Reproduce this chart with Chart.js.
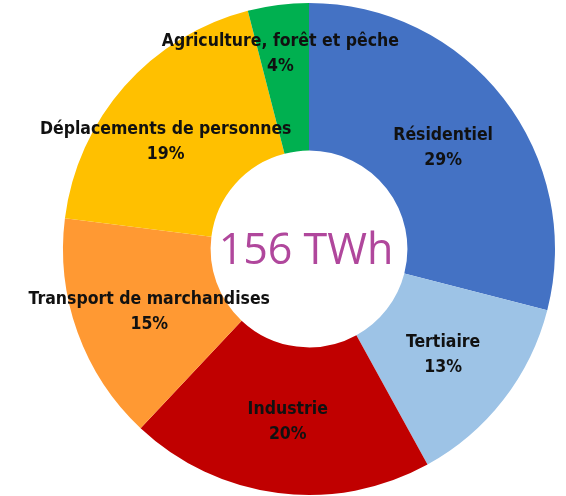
<!DOCTYPE html>
<html>
<head>
<meta charset="utf-8">
<script src="https://cdn.jsdelivr.net/npm/chart.js@4.4.0/dist/chart.umd.min.js"></script>
<style>
  html, body { margin: 0; padding: 0; background: #fff; }
  #wrap { width: 566px; height: 496px; }
</style>
</head>
<body>
<div id="wrap"><canvas id="Chart1"></canvas></div>
<script>
const categories = ["Résidentiel", "Tertiaire", "Industrie", "Transport de marchandises", "Déplacements de personnes", "Agriculture, forêt et pêche"];
const shares = [29, 13, 20, 15, 19, 4];
const colors = ["#4472C4", "#9DC3E6", "#C00000", "#FF9933", "#FFC000", "#00B050"];
const centerLabel = "156 TWh";
// label nudges (radius factor, dx, dy) so they sit like the original
const labelRadius = [0.69, 0.69, 0.69, 0.69, 0.69, 0.80];
const labelShift = [[0, 3], [0, 2], [0, 5], [0, 5], [-16, 5], [-4, 0]];

const labelPlugin = {
    id: 'sliceLabels',
    afterDatasetsDraw(chart) {
        const ctx = chart.ctx;
        const meta = chart.getDatasetMeta(0);
        ctx.save();
        ctx.textAlign = 'center';
        ctx.textBaseline = 'middle';
        meta.data.forEach(function(arc, i) {
            const mid = (arc.startAngle + arc.endAngle) / 2;
            const r = arc.outerRadius * labelRadius[i];
            const x = arc.x + Math.cos(mid) * r + labelShift[i][0];
            const y = arc.y + Math.sin(mid) * r + labelShift[i][1];
            ctx.fillStyle = '#111';
            ctx.font = 'bold 17.5px "DejaVu Sans Condensed", "DejaVu Sans", sans-serif';
            ctx.fillText(categories[i], x, y - 12.5);
            ctx.fillText(shares[i] + '%', x, y + 12.5);
        });
        const a = meta.data[0];
        ctx.fillStyle = '#B0479C';
        ctx.font = '43px "Open Sans", "Noto Sans", sans-serif';
        ctx.fillText(centerLabel, a.x - 3, a.y + 3);
        ctx.restore();
    }
};

new Chart(document.getElementById('Chart1'), {
    type: 'doughnut',
    data: {
        labels: categories,
        datasets: [{
            data: shares,
            backgroundColor: colors,
            borderWidth: 0
        }]
    },
    options: {
        responsive: true,
        maintainAspectRatio: false,
        animation: false,
        cutout: '40%',
        layout: { padding: { left: 63, right: 11, top: 2, bottom: 0 } },
        plugins: {
            legend: { display: false },
            tooltip: { enabled: false }
        }
    },
    plugins: [labelPlugin]
});
</script>
</body>
</html>
